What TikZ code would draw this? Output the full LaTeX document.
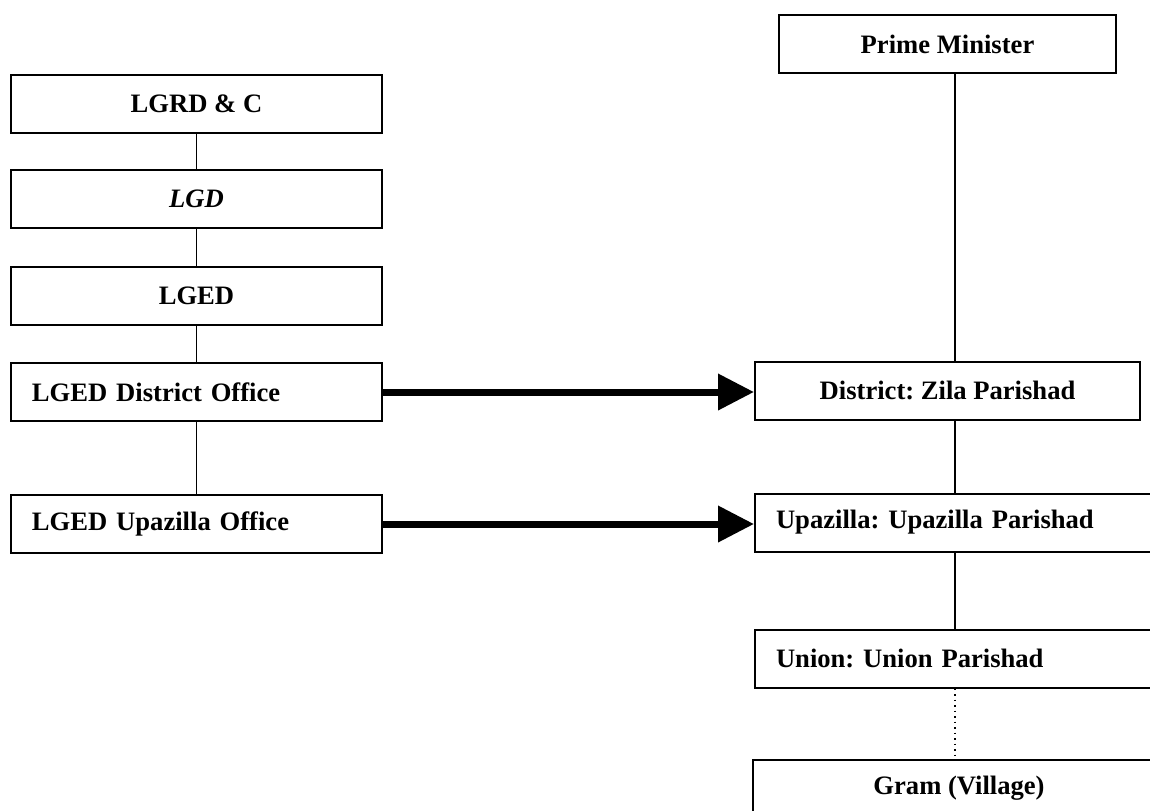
\documentclass[tikz,border=0pt]{standalone}
\usepackage{fontspec}
\setmainfont{Liberation Serif}
\usetikzlibrary{arrows.meta}

\tikzset{
  box/.style={draw, line width=1pt, minimum height=29pt, inner sep=0pt,
    font=\fontsize{13.3}{16}\selectfont\bfseries\frenchspacing},
  lbox/.style={box, align=left, inner xsep=10.5pt, text width=#1},
  link/.style={line width=0.9pt},
  bigarrow/.style={line width=3.5pt, -{Triangle[length=18pt,width=17.5pt]}}
}

\begin{document}
\begin{tikzpicture}[x=0.5pt, y=-0.5pt]
\clip (0,0) rectangle (1150,810);
% left column
\node[box, minimum width=185.5pt] (lgrd) at (196.5,104) {LGRD \& C};
\node[box, minimum width=185.5pt] (lgd) at (196.5,198.5) {\itshape LGD};
\node[box, minimum width=185.5pt] (lged) at (196.5,296) {LGED};
\node[lbox=164.5pt] (distoff) at (196.5,392) {LGED District Office};
\node[lbox=164.5pt] (upaoff) at (196.5,524) {LGED Upazilla Office};
% right column
\node[box, minimum width=168.5pt] (pm) at (947.5,44) {Prime Minister};
\node[box, minimum width=192.5pt] (zila) at (947.5,390.5) {District: Zila Parishad};
\node[lbox=184pt] (upa) at (960,522.5) {Upazilla: Upazilla Parishad};
\node[lbox=184pt] (union) at (960,658.5) {Union: Union Parishad};
\node[box, minimum width=206pt] (gram) at (959,788.5) {Gram (Village)};
\coordinate (spine) at (955,0);
% links
\draw[link] (lgrd) -- (lgd);
\draw[link] (lgd) -- (lged);
\draw[link] (lged) -- (distoff);
\draw[link] (distoff) -- (upaoff);
\draw[link] (pm.south -| spine) -- (zila.north -| spine);
\draw[link] (zila.south -| spine) -- (upa.north -| spine);
\draw[link] (upa.south -| spine) -- (union.north -| spine);
\draw[dotted, line width=0.75pt] (union.south -| spine) -- (gram.north -| spine);
% arrows across
\draw[bigarrow] (distoff.east) -- (distoff.east -| zila.west);
\draw[bigarrow] (upaoff.east) -- (upaoff.east -| upa.west);
\end{tikzpicture}
\end{document}
